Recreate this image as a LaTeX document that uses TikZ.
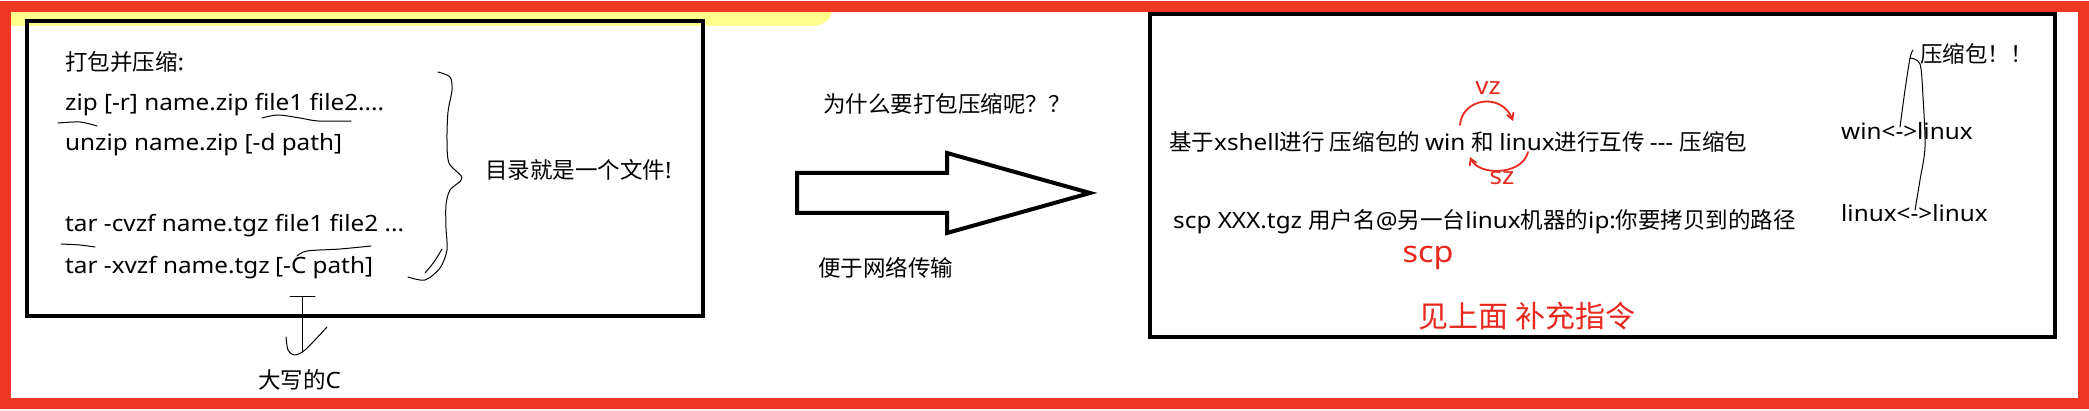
\documentclass[tikz,border=0pt]{standalone}
\usepackage{fontspec}
\setmainfont[FakeStretch=1.08]{Noto Sans}
\newfontfamily\cjkfont{Noto Sans CJK SC}
\newfontfamily\latinfont[FakeStretch=1.08]{Noto Sans}
\XeTeXinterchartokenstate=1
\newXeTeXintercharclass\cjkclass
\newcount\cjkcode
\cjkcode="4E00
\loop\XeTeXcharclass\cjkcode=\cjkclass \advance\cjkcode by 1 \ifnum\cjkcode<"A000 \repeat
\cjkcode="3000
\loop\XeTeXcharclass\cjkcode=\cjkclass \advance\cjkcode by 1 \ifnum\cjkcode<"3040 \repeat
\cjkcode="FF00
\loop\XeTeXcharclass\cjkcode=\cjkclass \advance\cjkcode by 1 \ifnum\cjkcode<"FFF0 \repeat
\XeTeXinterchartoks 0 \cjkclass = {\cjkfont}
\XeTeXinterchartoks 4095 \cjkclass = {\cjkfont}
\XeTeXinterchartoks \cjkclass 0 = {\latinfont}
\XeTeXinterchartoks 4095 0 = {\latinfont}
\usetikzlibrary{arrows,positioning}
\definecolor{framered}{RGB}{238,56,36}
\definecolor{inkred}{RGB}{232,40,30}
\definecolor{marker}{RGB}{255,255,140}

\begin{document}
\begin{tikzpicture}[
  x=1pt,y=-1pt,
  txt/.style={anchor=base west,inner sep=0pt,font=\fontsize{22.5}{26}\selectfont},
  note/.style={inner sep=0pt,text=inkred,font=\fontsize{#1}{#1}\selectfont},
  pen/.style={line width=1pt,line cap=round,line join=round},
  redpen/.style={inkred,line width=1.8pt,line cap=round,-{angle 60}},
  panel/.style={draw,line width=4pt}
]
  \useasboundingbox (0,0) rectangle (2089,411);
  \fill[white] (0,0) rectangle (2089,411);
  \fill[marker] (10,10) -- (832,10) to[out=-90,in=0] (812,26) -- (10,26) -- cycle;

  \draw[panel] (27,21) rectangle (703,316);
  \draw[panel,line width=3.5pt] (1150,14) rectangle (2055,337);

  \node[txt] (title) at (65,71) {打包并压缩:};
  \node[txt] (zip) at (65,111) {zip [-r] name.zip file1 file2....};
  \node[txt] (unzip) at (65,151) {unzip name.zip [-d path]};
  \node[txt] (tarc) at (65,232) {tar -cvzf name.tgz file1 file2 ...};
  \node[txt] (tarx) at (65,274) {tar -xvzf name.tgz};
  \node[txt] (cpath) at (275,274) {[-C path]};
  \node[txt] (isfile) at (485,179) {目录就是一个文件!};
  \node[txt] (upperc) at (258,389) {大写的C};

  \node[txt] (why) at (823,113) {为什么要打包压缩呢？？};
  \node[txt] (net) at (818,277) {便于网络传输};
  \draw[line width=4pt,line join=miter] (797,173) -- (947,173) -- (947,153) -- (1090,193)
    -- (947,233) -- (947,213) -- (797,213) -- cycle;

  \node[txt] (xshell) at (1169,151) {基于xshell进行 压缩包的 win 和 linux进行互传 -{}-{}- 压缩包};
  \node[txt] (scp) at (1173,229) {scp XXX.tgz 用户名@另一台linux机器的ip:你要拷贝到的路径};
  \node[txt] (winlinux) at (1841,140) {win<->linux};
  \node[txt] (linuxlinux) at (1841,222) {linux<->linux};
  \node[txt] (pkg) at (1920,63) {压缩包！！};

  \node[note=24] (vz) at (1488,88) {vz};
  \node[note=24] (sz) at (1502,178) {sz};
  \node[note=30] (redscp) at (1428,258) {scp};
  \node[note=30] (seeabove) at (1527,316) {见上面 补充指令};

  \coordinate (winend) at (1460,125);
  \coordinate (linuxend) at (1528,152);
  \draw[redpen] (winend) .. controls (1462,98) and (1502,92) .. (1513,121);
  \draw[redpen] (linuxend) .. controls (1522,176) and (1478,176) .. (1470,157);

  \draw[pen] plot[smooth] coordinates {(438,72) (450,77) (452,90) (448,112) (447,140) (449,163)
    (462,178) (450,190) (446,205) (446,228) (447,250) (440,268) (425,280) (408,277)};
  \draw[pen] plot[smooth] coordinates {(442,249) (434,262) (425,273)};

  \draw[pen] plot[smooth] coordinates {(58,123) (80,122) (97,126)};
  \draw[pen] plot[smooth] coordinates {(262,118) (278,115) (300,118) (318,121) (351,121)};
  \draw[pen] plot[smooth] coordinates {(61,244) (80,245) (95,247)};
  \draw[pen] plot[smooth] coordinates {(297,256) (307,251) (340,249) (371,246)};

  \coordinate (tbar) at (302,297);
  \draw[pen] (290,297) -- (315,297);
  \draw[pen] (tbar) -- (302,352);
  \draw[pen] plot[smooth] coordinates {(286,337) (288,350) (294,355) (305,350) (327,327)};

  \draw[pen] plot[smooth] coordinates {(1913,50) (1910,58) (1905,90) (1900,127)};
  \draw[pen] plot[smooth] coordinates {(1910,58) (1920,64) (1923,97) (1925,147) (1920,180) (1915,210)};

  \draw[framered,line width=11pt] (5,7) rectangle (2083,404);
\end{tikzpicture}
\end{document}
